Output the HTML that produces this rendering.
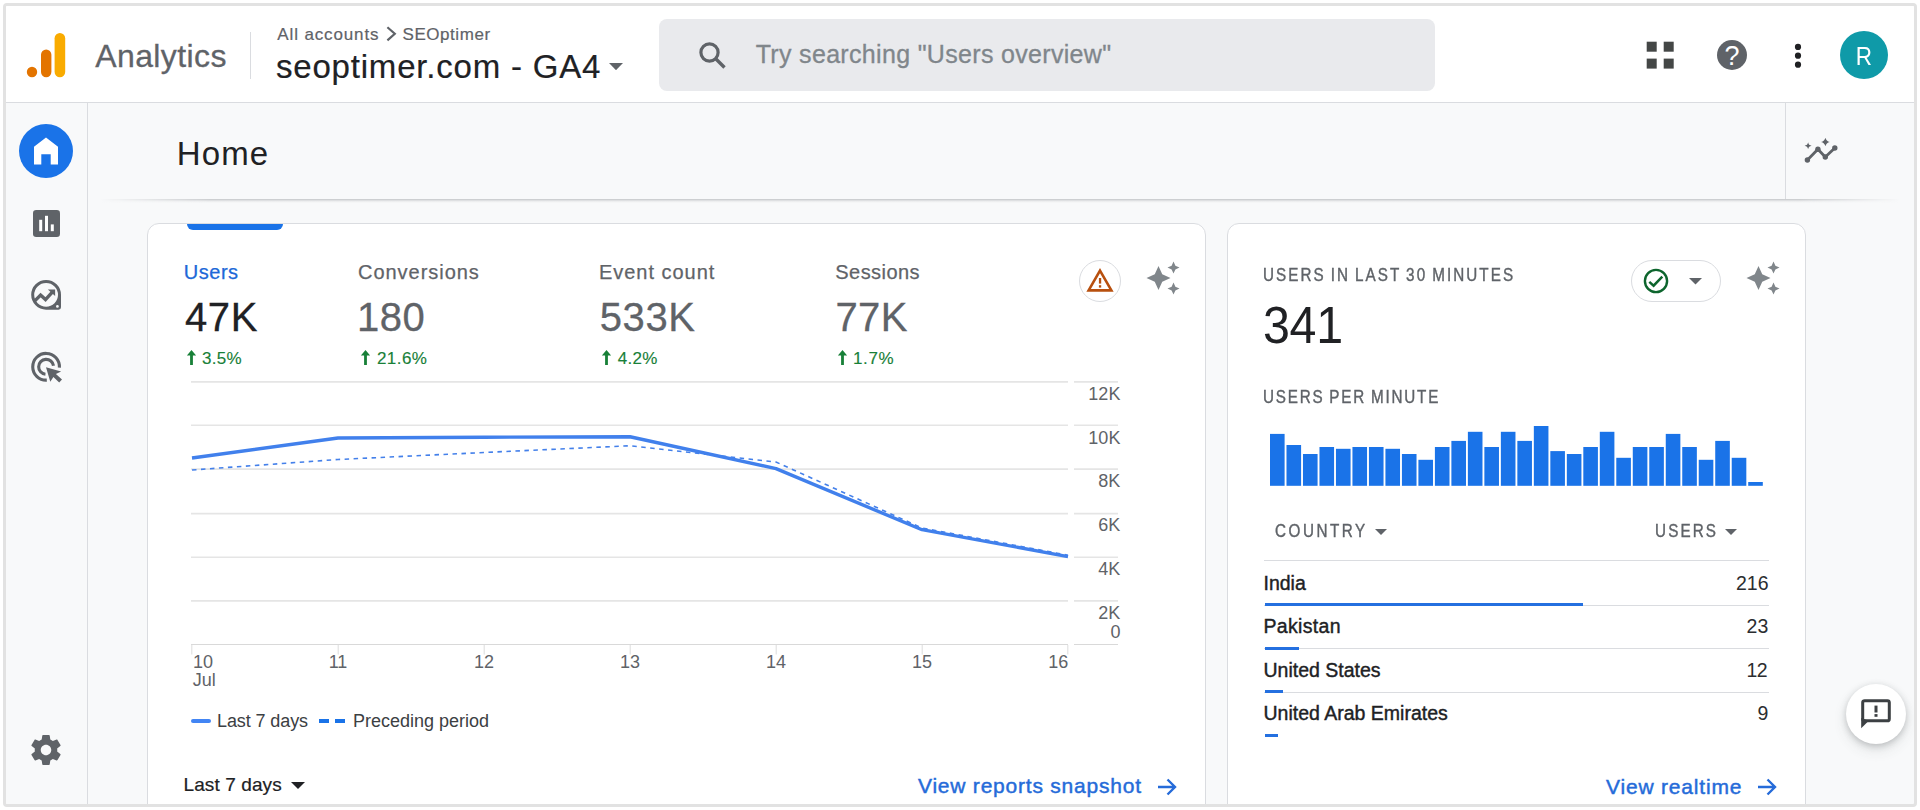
<!DOCTYPE html>
<html lang="en">
<head>
<meta charset="utf-8">
<title>Analytics | Home</title>
<style>
*{box-sizing:border-box;margin:0;padding:0}
html,body{width:1920px;height:810px;overflow:hidden;background:#fff}
body{font-family:"Liberation Sans",sans-serif;color:#202124;position:relative}
.abs{position:absolute}
.t{position:absolute;white-space:nowrap;line-height:1}
#frame{position:absolute;left:3px;top:3px;width:1914px;height:804px;border:3px solid #e2e2e2;border-radius:4px;background:#f8f9fa;overflow:hidden}
/* everything inside #app is positioned in page coordinates */
#app{position:absolute;left:-6px;top:-6px;width:1920px;height:810px}
#header{left:6px;top:6px;width:1908px;height:97px;background:#fff;border-bottom:1px solid #dadce0}
#sidebar{left:6px;top:103px;width:82px;height:701px;background:#f8f9fa;border-right:1px solid #dadce0}
#search{left:659px;top:19px;width:776px;height:72px;background:#e9eaed;border-radius:8px}
.card{background:#fff;border:1px solid #dadce0;border-radius:12px}
.gl{position:absolute;height:2px;background:#e9e9e9}
.lbl{font-size:18px;color:#5f6368}
.metric-l{font-size:20px;color:#5f6368;-webkit-text-stroke:.25px}
.metric-v{font-size:40px;color:#5f6368;-webkit-text-stroke:.3px}
.delta{font-size:17px;color:#188038;letter-spacing:.3px;-webkit-text-stroke:.15px #188038}
.caps{font-size:17.5px;color:#5f6368;letter-spacing:0px;-webkit-text-stroke:.4px #5f6368;transform:scaleX(.87);transform-origin:0 0;word-spacing:-1.5px}
.row{font-size:19.5px;color:#202124;-webkit-text-stroke:.4px #202124}
.num{font-size:19.5px;color:#2b2d30;text-align:right}
.rl{position:absolute;left:1264px;width:505px;height:1px;background:#dadce0}
.rb{position:absolute;left:1265px;height:3.400px;background:#2470e0}
.link{font-size:21px;color:#256bd9;-webkit-text-stroke:.45px #256bd9}
#t-analytics,#t-search{-webkit-text-stroke:.3px}
#t-prop{-webkit-text-stroke:.2px}
#t-crumb1,#t-crumb2,#dd-1{-webkit-text-stroke:.2px}
</style>
</head>
<body>
<div id="frame"><div id="app">

<!-- HEADER -->
<div id="header" class="abs"></div>
<svg class="abs" style="left:24px;top:30px" width="48" height="50" viewBox="0 0 48 50">
  <circle cx="8" cy="42" r="5.2" fill="#e37400"/>
  <rect x="17" y="19.5" width="10.4" height="27.7" rx="5.2" fill="#e37400"/>
  <rect x="30.6" y="3" width="10.6" height="44.2" rx="5.3" fill="#f9ab00"/>
</svg>
<div class="t" id="t-analytics" style="left:95.3px;top:39.7px;font-size:32px;color:#5f6368;letter-spacing:0.38px">Analytics</div>
<div class="abs" style="left:250px;top:32px;width:1px;height:47px;background:#dadce0"></div>
<div class="t" id="t-crumb1" style="left:277.3px;top:25.5px;font-size:17px;color:#5f6368;letter-spacing:0.87px">All accounts</div>
<svg class="abs" style="left:384px;top:26px" width="14" height="16" viewBox="0 0 14 16"><path d="M3.400 1.200 L10.800 7.800 L3.400 14.400" fill="none" stroke="#5f6368" stroke-width="2.200"/></svg>
<div class="t" id="t-crumb2" style="left:402.6px;top:25.5px;font-size:17px;color:#5f6368;letter-spacing:0.54px">SEOptimer</div>
<div class="t" id="t-prop" style="left:276px;top:49.7px;font-size:33px;color:#202124;letter-spacing:0.8px">seoptimer.com - GA4</div>
<svg class="abs" style="left:609px;top:63.200px" width="14" height="7.200" viewBox="0 0 14 7.200"><path d="M0 0 H14 L7 7.200 Z" fill="#5f6368"/></svg>

<div id="search" class="abs"></div>
<svg class="abs" style="left:697px;top:40px" width="30" height="30" viewBox="0 0 30 30"><circle cx="12.5" cy="12.5" r="8.6" fill="none" stroke="#5f6368" stroke-width="3.2"/><path d="M19 19 L27.5 27.5" stroke="#5f6368" stroke-width="3.4" stroke-linecap="butt"/></svg>
<div class="t" id="t-search" style="left:755.7px;top:41.7px;font-size:25px;color:#80868b;letter-spacing:0.32px">Try searching "Users overview"</div>

<!-- apps grid -->
<svg class="abs" style="left:1646px;top:41px" width="28" height="28" viewBox="0 0 28 28" fill="#444746">
  <rect x="0.7" y="0.7" width="10" height="10"/><rect x="17.7" y="0.7" width="10" height="10"/>
  <rect x="0.7" y="17.6" width="10" height="10"/><rect x="17.7" y="17.6" width="10" height="10"/>
</svg>
<!-- help -->
<svg class="abs" style="left:1716px;top:39px" width="32" height="32" viewBox="0 0 32 32">
  <circle cx="16" cy="16" r="15" fill="#5f6368"/>
  <text x="16" y="25.5" text-anchor="middle" font-family="Liberation Sans, sans-serif" font-size="27" fill="#fff">?</text>
</svg>
<!-- more -->
<svg class="abs" style="left:1792px;top:42px" width="12" height="28" viewBox="0 0 12 28" fill="#202124">
  <circle cx="6" cy="4.9" r="3.1"/><circle cx="6" cy="13.7" r="3.1"/><circle cx="6" cy="22.7" r="3.1"/>
</svg>
<!-- avatar -->
<div class="abs" style="left:1840px;top:31px;width:48px;height:48px;border-radius:50%;background:#0f9aa8"></div>
<div class="t" id="t-avatar" style="left:1849px;top:43.5px;font-size:25px;color:#fff;width:30px;text-align:center;transform:scaleX(.9)">R</div>

<!-- SIDEBAR -->
<div id="sidebar" class="abs"></div>
<div class="abs" style="left:19px;top:124px;width:54px;height:54px;border-radius:50%;background:#1a73e8"></div>
<svg class="abs" id="i-home" style="left:33px;top:137px" width="26" height="28" viewBox="0 0 26 28"><path d="M13 0.600 L25 9.800 V27.400 H17.700 V17.200 H8.300 V27.400 H1 V9.800 Z" fill="#fff"/></svg>
<svg class="abs" id="i-reports" style="left:32.8px;top:209.6px" width="27" height="27" viewBox="0 0 27 27"><rect x="0" y="0" width="27" height="27" rx="3.2" fill="#5f6368"/><rect x="6.2" y="9.8" width="3" height="11.4" fill="#fff"/><rect x="12" y="5.8" width="3" height="15.4" fill="#fff"/><rect x="17.8" y="14.4" width="3" height="6.8" fill="#fff"/></svg>
<svg class="abs" id="i-explore" style="left:30px;top:279px" width="32" height="32" viewBox="0 0 32 32"><path fill-rule="evenodd" d="M16.1 0.9000000000000004 A14.9 14.9 0 0 1 31.0 15.8 V28.300000000000004 Q31.0 30.700000000000003 28.6 30.700000000000003 H16.1 A14.9 14.9 0 0 1 16.1 0.9000000000000004 Z M16.1 3.9000000000000004 A11.9 11.9 0 0 0 16.1 27.700000000000003 A11.9 11.9 0 0 0 16.1 3.9000000000000004 Z" fill="#5f6368"/><path d="M4.800 21.900 L10.600 16.100 L15.500 20.600 L22.800 12.600" fill="none" stroke="#5f6368" stroke-width="3.400"/><path d="M17.900 10.400 H25.100 V16.900 Z" fill="#5f6368"/><circle cx="27.400" cy="27.400" r="1.350" fill="#f8f9fa"/></svg>
<svg class="abs" id="i-ads" style="left:30px;top:351px" width="33" height="33" viewBox="0 0 33 33"><path d="M29.400 16.700 A13.350 13.350 0 1 0 16.800 29.100" fill="none" stroke="#5f6368" stroke-width="3.100"/><path d="M23.500 14.800 A7.450 7.450 0 1 0 15.450 23.200" fill="none" stroke="#5f6368" stroke-width="3.100"/><path d="M16 16.200 L31.100 20.500 L25.900 23.100 L32 28.500 L29.200 31.400 L23.400 26 L20.300 30.800 Z" fill="#5f6368"/></svg>
<svg class="abs" id="i-gear" style="left:28px;top:732px" width="36" height="36" viewBox="0 0 24 24"><path fill="#5f6368" d="M19.43 12.98c.04-.32.07-.64.07-.98s-.03-.66-.07-.98l2.11-1.65c.19-.15.24-.42.12-.64l-2-3.46c-.12-.22-.39-.3-.61-.22l-2.49 1c-.52-.4-1.08-.73-1.69-.98l-.38-2.65C14.46 2.18 14.25 2 14 2h-4c-.25 0-.46.18-.49.42l-.38 2.65c-.61.25-1.17.59-1.69.98l-2.49-1c-.23-.09-.49 0-.61.22l-2 3.46c-.13.22-.07.49.12.64l2.11 1.65c-.04.32-.07.65-.07.98s.03.66.07.98l-2.11 1.65c-.19.15-.24.42-.12.64l2 3.46c.12.22.39.3.61.22l2.49-1c.52.4 1.08.73 1.69.98l.38 2.65c.03.24.24.42.49.42h4c.25 0 .46-.18.49-.42l.38-2.65c.61-.25 1.17-.59 1.69-.98l2.49 1c.23.09.49 0 .61-.22l2-3.46c.12-.22.07-.49-.12-.64l-2.11-1.65zM12 15.5c-1.93 0-3.500-1.57-3.500-3.500s1.570-3.500 3.500-3.500 3.500 1.570 3.500 3.500-1.570 3.500-3.500 3.500z"/></svg>

<!-- HOME BAR -->
<div class="t" id="t-home" style="left:176.8px;top:137px;font-size:33px;color:#202124;letter-spacing:1.1px">Home</div>
<div class="abs" style="left:1785px;top:103px;width:1px;height:96px;background:#dadce0"></div>
<svg class="abs" id="i-ins" style="left:1802px;top:135px" width="38" height="30" viewBox="0 0 38 30"><path d="M5.400 25 L15.900 14.300 L23.300 22 L32.800 13" fill="none" stroke="#5f6368" stroke-width="2.800" stroke-linejoin="round"/><circle cx="5.400" cy="25" r="2.700" fill="#5f6368"/><circle cx="15.900" cy="14.300" r="2.700" fill="#5f6368"/><circle cx="23.300" cy="22" r="2.700" fill="#5f6368"/><circle cx="32.800" cy="13" r="2.700" fill="#5f6368"/><path d="M6.1 7.199999999999999 Q6.52 10.28 9.6 10.7 Q6.52 11.12 6.1 14.2 Q5.68 11.12 2.5999999999999996 10.7 Q5.68 10.28 6.1 7.199999999999999 Z" fill="#5f6368"/><path d="M23.4 2.7 Q24.259999999999998 6.14 27.7 7 Q24.259999999999998 7.86 23.4 11.3 Q22.54 7.86 19.099999999999998 7 Q22.54 6.14 23.4 2.7 Z" fill="#5f6368"/></svg>
<div class="abs" id="homeshadow" style="left:100px;top:199px;width:1800px;height:6px;background:linear-gradient(to bottom,#c6c8ca 0,#d4d6d8 1px,#e9eaec 2px,#f3f4f5 3.200px,rgba(248,249,250,0) 4.500px);-webkit-mask-image:linear-gradient(to right,transparent 0,#000 110px,#000 1700px,transparent 1800px);mask-image:linear-gradient(to right,transparent 0,#000 110px,#000 1700px,transparent 1800px)"></div>

<!-- MAIN CARD -->
<div class="abs card" id="card1" style="left:147px;top:223px;width:1059px;height:620px"></div>
<div class="abs" id="tabind" style="left:187px;top:224px;width:96px;height:6px;background:#1a73e8;border-radius:0 0 6px 6px"></div>

<div class="t metric-l" id="m-l1" style="left:183.8px;top:261.5px;color:#2068d8;letter-spacing:0.52px">Users</div>
<div class="t metric-l" id="m-l2" style="left:358px;top:261.5px;letter-spacing:0.97px">Conversions</div>
<div class="t metric-l" id="m-l3" style="left:599px;top:261.5px;letter-spacing:0.97px">Event count</div>
<div class="t metric-l" id="m-l4" style="left:835.3px;top:261.5px;letter-spacing:0.45px">Sessions</div>

<div class="t metric-v" id="m-v1" style="left:185px;top:297px;color:#202124;letter-spacing:0.6px">47K</div>
<div class="t metric-v" id="m-v2" style="left:357px;top:297px;letter-spacing:0.45px">180</div>
<div class="t metric-v" id="m-v3" style="left:599.7px;top:297px;letter-spacing:0.63px">533K</div>
<div class="t metric-v" id="m-v4" style="left:835.4px;top:297px;letter-spacing:0.4px">77K</div>

<svg class="abs arr" id="m-a1" style="left:185.9px;top:350px" width="11" height="15" viewBox="0 0 11 15"><path d="M5.500 0 L10.100 5.600 H6.900 V15 H4.100 V5.600 H0.900 Z" fill="#188038"/></svg>
<div class="t delta" id="m-d1" style="left:202px;top:350.1px">3.5%</div>
<svg class="abs arr" id="m-a2" style="left:360.1px;top:350px" width="11" height="15" viewBox="0 0 11 15"><path d="M5.500 0 L10.100 5.600 H6.900 V15 H4.100 V5.600 H0.900 Z" fill="#188038"/></svg>
<div class="t delta" id="m-d2" style="left:377px;top:350.1px;letter-spacing:0.42px">21.6%</div>
<svg class="abs arr" id="m-a3" style="left:601px;top:350px" width="11" height="15" viewBox="0 0 11 15"><path d="M5.500 0 L10.100 5.600 H6.900 V15 H4.100 V5.600 H0.900 Z" fill="#188038"/></svg>
<div class="t delta" id="m-d3" style="left:617.7px;top:350.1px">4.2%</div>
<svg class="abs arr" id="m-a4" style="left:836.8px;top:350px" width="11" height="15" viewBox="0 0 11 15"><path d="M5.500 0 L10.100 5.600 H6.900 V15 H4.100 V5.600 H0.900 Z" fill="#188038"/></svg>
<div class="t delta" id="m-d4" style="left:853px;top:350.1px;letter-spacing:0.6px">1.7%</div>

<!-- warning chip -->
<div class="abs" style="left:1079px;top:260px;width:42px;height:42px;border-radius:50%;border:1px solid #dadce0;background:#fff"></div>
<svg class="abs" id="i-warn" style="left:1085.5px;top:267px" width="28" height="26" viewBox="0 0 28 26"><path d="M14 3.6 L25.4 23.4 H2.6 Z" fill="none" stroke="#b8500f" stroke-width="2.6" stroke-linejoin="miter"/><rect x="12.9" y="11" width="2.3" height="5.6" fill="#b8500f"/><rect x="12.9" y="18.2" width="2.3" height="2.4" fill="#b8500f"/></svg>
<!-- sparkle -->
<svg class="abs" id="i-spark1" style="left:1144.6px;top:260px" width="36" height="36" viewBox="0 0 24 24" fill="#80868b"><path d="M19 9l1.250-2.750L23 5l-2.750-1.250L19 1l-1.250 2.750L15 5l2.750 1.250L19 9zm-7.500.500L9 4 6.500 9.500 1 12l5.500 2.500L9 20l2.500-5.500L17 12l-5.500-2.500zM19 15l-1.250 2.750L15 19l2.750 1.250L19 23l1.250-2.750L23 19l-2.750-1.250L19 15z"/></svg>

<!-- CHART -->
<svg class="abs" id="chart" style="left:147px;top:370px" width="1059px" height="330px" viewBox="147 370 1059 330" font-family="Liberation Sans, sans-serif" font-size="18" fill="#5f6368">
  <g stroke="#e5e5e5" stroke-width="1.600">
    <path d="M191 381.900H1068M1074 381.900H1118"/>
    <path d="M191 425.300H1068M1074 425.300H1118"/>
    <path d="M191 469.100H1068M1074 469.100H1118"/>
    <path d="M191 513.600H1068M1074 513.600H1118"/>
    <path d="M191 557.300H1068M1074 557.300H1118"/>
    <path d="M191 600.900H1068M1074 600.900H1118"/>
  </g>
  <path d="M191 644.500H1068M1074 644.500H1118" stroke="#d9d9d9" stroke-width="1"/>
  <g stroke="#e0e0e0" stroke-width="1.100">
    <path d="M191.800 645V654.500M338.200 645V654.500M484.200 645V654.500M630.200 645V654.500M776.200 645V654.500M922.200 645V654.500M1067.800 645V654.500"/>
  </g>
  <polyline points="192,470 338,459.500 484,452.500 630,445.750 776,462 922,528 1068,555.200" fill="none" stroke="#4480ea" stroke-width="1.600" stroke-dasharray="4.500 4.500"/>
  <polyline points="192,458 338,438 484,437.250 630,436.750 776,468.600 922,529.700 1068,556.600" fill="none" stroke="#4180ec" stroke-width="3.400" stroke-linejoin="round"/>
  <g text-anchor="end">
    <text x="1120.400" y="399.700">12K</text>
    <text x="1120.400" y="443.700">10K</text>
    <text x="1120.400" y="486.900">8K</text>
    <text x="1120.400" y="531.300">6K</text>
    <text x="1120.400" y="575.200">4K</text>
    <text x="1120.400" y="618.800">2K</text>
    <text x="1120.400" y="638.400">0</text>
  </g>
  <text x="193" y="668.300">10</text>
  <text x="192.700" y="686">Jul</text>
  <g text-anchor="middle">
    <text x="338" y="668.300">11</text>
    <text x="484" y="668.300">12</text>
    <text x="630" y="668.300">13</text>
    <text x="776" y="668.300">14</text>
    <text x="922" y="668.300">15</text>
  </g>
  <text x="1068.300" y="668.300" text-anchor="end">16</text>
</svg>

<!-- legend -->
<div class="abs" style="left:191px;top:719px;width:20px;height:4px;background:#4285f4;border-radius:2px"></div>
<div class="t" id="lg-1" style="left:217px;top:712px;font-size:18px;color:#3c4043;letter-spacing:-0.1px">Last 7 days</div>
<div class="abs" style="left:319px;top:718.500px;width:9.500px;height:4.500px;background:#1a73e8"></div>
<div class="abs" style="left:335px;top:718.500px;width:9.500px;height:4.500px;background:#1a73e8"></div>
<div class="t" id="lg-2" style="left:353px;top:712px;font-size:18px;color:#3c4043">Preceding period</div>

<div class="t" id="dd-1" style="left:183.5px;top:775px;font-size:19px;color:#202124;letter-spacing:0.1px">Last 7 days</div>
<svg class="abs" style="left:291px;top:782px" width="14" height="7" viewBox="0 0 14 7"><path d="M0 0 H14 L7 7 Z" fill="#202124"/></svg>

<div class="t link" id="lk-1" style="left:918px;top:775.4px;letter-spacing:0.78px">View reports snapshot</div>
<svg class="abs" id="i-arr1" style="left:1157px;top:778px" width="20" height="18" viewBox="0 0 20 18"><path d="M1 9 H17.500 M10.500 1.500 L18 9 L10.500 16.500" fill="none" stroke="#256bd9" stroke-width="2.400"/></svg>
<!-- REALTIME CARD -->
<div class="abs card" id="card2" style="left:1227px;top:223px;width:579px;height:620px"></div>
<div class="t caps" id="r-h1" style="left:1262.8px;top:267px;letter-spacing:2.37px">USERS IN LAST 30 MINUTES</div>
<div class="t" id="r-big" style="left:1263.4px;top:298.8px;font-size:52px;color:#202124;letter-spacing:-0.3px;transform:scaleX(.93);transform-origin:0 0">341</div>
<div class="abs" style="left:1631px;top:260px;width:90px;height:42px;border-radius:21px;border:1px solid #dadce0;background:#fff"></div>
<svg class="abs" id="i-check" style="left:1642.3px;top:267px" width="28" height="28" viewBox="0 0 28 28"><circle cx="14" cy="14" r="11.100" fill="none" stroke="#0d652d" stroke-width="2.400"/><path d="M7.300 14.900 L11.600 18.700 L20.300 9.700" fill="none" stroke="#0d652d" stroke-width="2.500"/></svg>
<svg class="abs" style="left:1689px;top:278px" width="13" height="7" viewBox="0 0 13 7"><path d="M0 0 H13 L6.500 6.500 Z" fill="#5f6368"/></svg>
<svg class="abs" id="i-spark2" style="left:1744.6px;top:259.8px" width="36" height="36" viewBox="0 0 24 24" fill="#80868b"><path d="M19 9l1.250-2.750L23 5l-2.750-1.250L19 1l-1.250 2.750L15 5l2.750 1.250L19 9zm-7.500.500L9 4 6.500 9.500 1 12l5.500 2.500L9 20l2.500-5.500L17 12l-5.500-2.500zM19 15l-1.250 2.750L15 19l2.750 1.250L19 23l1.250-2.750L23 19l-2.750-1.250L19 15z"/></svg>
<div class="t caps" id="r-h2" style="left:1262.8px;top:389px;letter-spacing:2.1px">USERS PER MINUTE</div>
<svg class="abs" id="bars" style="left:1260px;top:420px" width="520" height="70" viewBox="1260 420 520 70" fill="#1a73e8">
  <rect x="1270.00" y="433.9" width="14.6" height="51.9"/>
  <rect x="1286.49" y="445.0" width="14.6" height="40.8"/>
  <rect x="1302.98" y="454.0" width="14.6" height="31.8"/>
  <rect x="1319.47" y="447.0" width="14.6" height="38.8"/>
  <rect x="1335.96" y="448.8" width="14.6" height="37.0"/>
  <rect x="1352.45" y="447.0" width="14.6" height="38.8"/>
  <rect x="1368.94" y="447.0" width="14.6" height="38.8"/>
  <rect x="1385.43" y="448.8" width="14.6" height="37.0"/>
  <rect x="1401.92" y="454.0" width="14.6" height="31.8"/>
  <rect x="1418.41" y="459.8" width="14.6" height="26.0"/>
  <rect x="1434.90" y="447.0" width="14.6" height="38.8"/>
  <rect x="1451.39" y="440.9" width="14.6" height="44.9"/>
  <rect x="1467.88" y="431.8" width="14.6" height="54.0"/>
  <rect x="1484.37" y="447.0" width="14.6" height="38.8"/>
  <rect x="1500.86" y="431.8" width="14.6" height="54.0"/>
  <rect x="1517.35" y="440.9" width="14.6" height="44.9"/>
  <rect x="1533.84" y="426.0" width="14.6" height="59.8"/>
  <rect x="1550.33" y="451.1" width="14.6" height="34.7"/>
  <rect x="1566.82" y="454.0" width="14.6" height="31.8"/>
  <rect x="1583.31" y="447.0" width="14.6" height="38.8"/>
  <rect x="1599.80" y="431.8" width="14.6" height="54.0"/>
  <rect x="1616.29" y="457.8" width="14.6" height="28.0"/>
  <rect x="1632.78" y="447.0" width="14.6" height="38.8"/>
  <rect x="1649.27" y="447.0" width="14.6" height="38.8"/>
  <rect x="1665.76" y="433.9" width="14.6" height="51.9"/>
  <rect x="1682.25" y="447.0" width="14.6" height="38.8"/>
  <rect x="1698.74" y="459.8" width="14.6" height="26.0"/>
  <rect x="1715.23" y="440.9" width="14.6" height="44.9"/>
  <rect x="1731.72" y="457.8" width="14.6" height="28.0"/>
  <rect x="1748.21" y="482.0" width="14.6" height="3.8"/>
</svg>
<div class="t caps" id="r-c1" style="left:1274.6px;top:523px;letter-spacing:2.9px">COUNTRY</div>
<svg class="abs" style="left:1375px;top:529px" width="12" height="6" viewBox="0 0 12 6"><path d="M0 0 H12 L6 6 Z" fill="#5f6368"/></svg>
<div class="t caps" id="r-c2" style="left:1654.6px;top:523px;letter-spacing:2.45px">USERS</div>
<svg class="abs" style="left:1725px;top:529px" width="12" height="6" viewBox="0 0 12 6"><path d="M0 0 H12 L6 6 Z" fill="#5f6368"/></svg>

<div class="rl" style="top:560px"></div>
<div class="t row" id="r-n1" style="left:1263.5px;top:574px">India</div>
<div class="t num" id="r-v1" style="left:1668.5px;width:100px;top:574px">216</div>
<div class="rl" style="top:605px"></div>
<div class="rb" style="top:603px;width:318px"></div>
<div class="t row" id="r-n2" style="left:1263.5px;top:617px;letter-spacing:0.33px">Pakistan</div>
<div class="t num" id="r-v2" style="left:1668.3px;width:100px;top:617px">23</div>
<div class="rl" style="top:648px"></div>
<div class="rb" style="top:646.500px;width:34px"></div>
<div class="t row" id="r-n3" style="left:1263.5px;top:660.7px">United States</div>
<div class="t num" id="r-v3" style="left:1667.2px;width:100px;top:660.7px;letter-spacing:-0.5px">12</div>
<div class="rl" style="top:692px"></div>
<div class="rb" style="top:690px;width:18px"></div>
<div class="t row" id="r-n4" style="left:1263.5px;top:704px">United Arab Emirates</div>
<div class="t num" id="r-v4" style="left:1668.3px;width:100px;top:704px">9</div>
<div class="rb" style="top:734px;width:13px"></div>

<div class="t link" id="lk-2" style="left:1606px;top:776px;letter-spacing:0.81px">View realtime</div>
<svg class="abs" id="i-arr2" style="left:1757px;top:778px" width="20" height="18" viewBox="0 0 20 18"><path d="M1 9 H17.500 M10.500 1.500 L18 9 L10.500 16.500" fill="none" stroke="#256bd9" stroke-width="2.400"/></svg>

<!-- feedback FAB -->
<div class="abs" id="fab" style="left:1846px;top:684px;width:60px;height:60px;border-radius:50%;background:#fff;box-shadow:0 2px 6px rgba(60,64,67,.25),0 6px 14px rgba(60,64,67,.12)"></div>
<svg class="abs" id="i-fb" style="left:1860px;top:698px" width="32" height="32" viewBox="0 0 32 32"><path d="M4.700 2.700 H27.400 Q29.300 2.700 29.300 4.600 V20.900 Q29.300 22.800 27.400 22.800 H4.700 Q2.700 22.800 2.700 20.900 V4.600 Q2.700 2.700 4.700 2.700 Z" fill="none" stroke="#3c4043" stroke-width="3"/><path d="M1.200 20 V30.300 L8.800 22.800 Z" fill="#3c4043"/><rect x="14.500" y="7.600" width="3" height="6.900" fill="#3c4043"/><rect x="14.500" y="16.100" width="3" height="2.700" fill="#3c4043"/></svg>

</div></div>
</body>
</html>
